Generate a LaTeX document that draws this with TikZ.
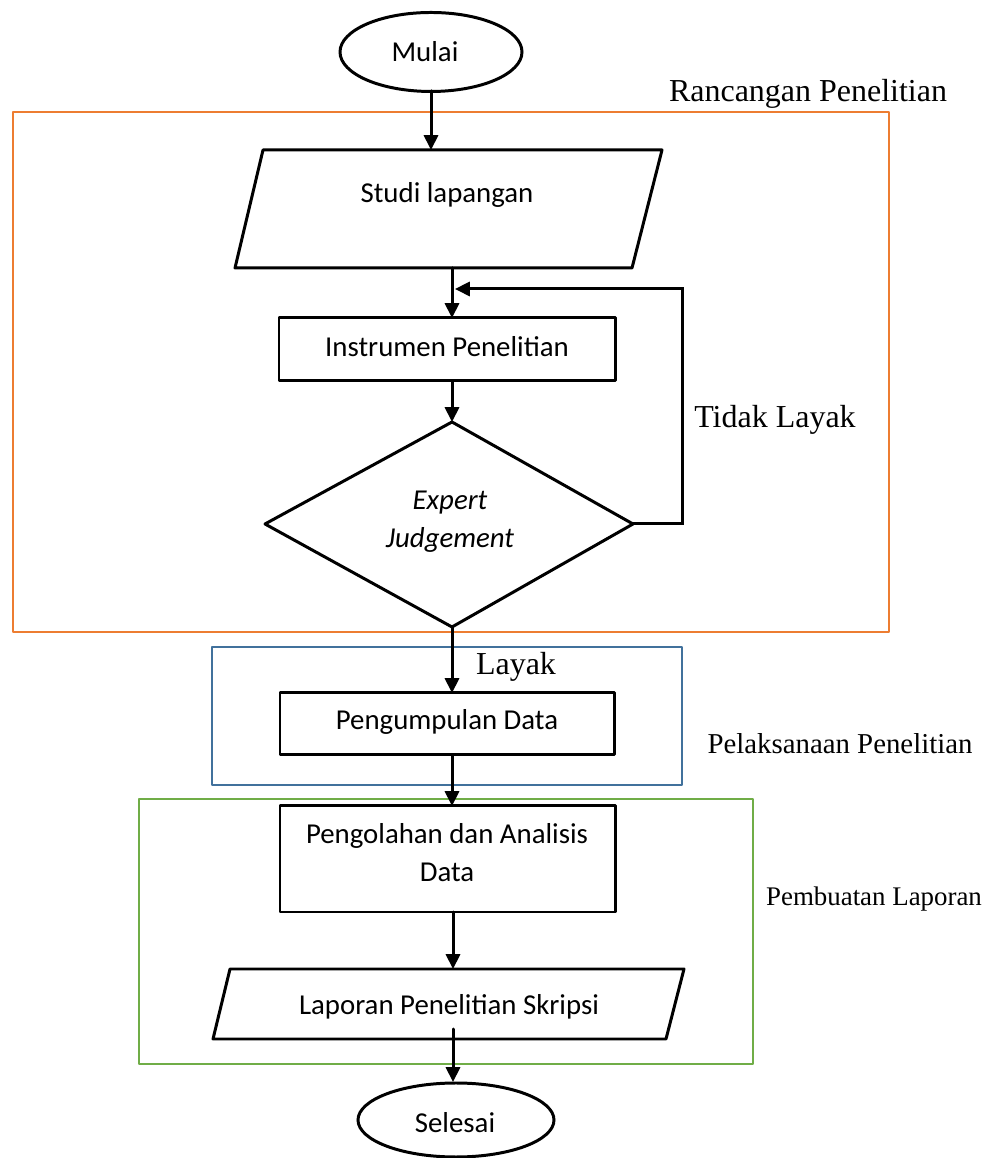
\documentclass[tikz,border=0pt]{standalone}
\usepackage{fontspec}
\usepackage{tkz-euclide}
\usetikzlibrary{arrows.meta}
\newfontfamily\calib{Carlito}
\newfontfamily\tnr{Liberation Serif}
\definecolor{orng}{HTML}{ED7D31}
\definecolor{blu}{HTML}{41719C}
\definecolor{grn}{HTML}{70AD47}
\tikzset{
  flowline/.style={line width=0.85pt, color=black},
  arr/.style={flowline, -{Triangle[width=4pt,length=4.2pt]}},
  phase/.style={line width=0.7pt},
  flowtxt/.style={font=\calib\fontsize{8.2}{9.8}\selectfont, inner sep=0pt, anchor=base},
  sidelbl/.style={font=\tnr\fontsize{9.1}{10.9}\selectfont, inner sep=0pt, anchor=base}
}

\begin{document}
\begin{tikzpicture}
    \useasboundingbox (0,0) rectangle (9.89,11.58);
    \tkzDefPoints{0.13/10.46/rA,8.89/10.46/rB,8.89/5.26/rC,0.13/5.26/rD,
      2.12/5.11/bA,6.82/5.11/bB,6.82/3.73/bC,2.12/3.73/bD,
      1.39/3.59/gA,7.53/3.59/gB,7.53/0.94/gC,1.39/0.94/gD}
    \tkzDefPoints{4.31/11.06/mul,4.31/10.67/mulB,4.31/10.08/stuT,
      2.35/8.90/stuA,6.32/8.90/stuB,6.62/10.08/stuC,2.63/10.08/stuD,4.52/8.90/stuO,
      2.79/8.40/insA,6.15/8.40/insB,6.15/7.77/insC,2.79/7.77/insD,4.52/8.40/insT,4.52/7.77/insO,
      4.52/7.36/expT,2.65/6.34/expL,4.52/5.31/expB,6.33/6.34/expR,
      6.82/6.34/lpA,6.82/8.69/lpB,4.55/8.69/lpC,
      2.80/4.65/pgA,6.14/4.65/pgB,6.14/4.03/pgC,2.80/4.03/pgD,4.52/4.65/pgT,4.52/4.03/pgO,
      2.80/3.52/poA,6.15/3.52/poB,6.15/2.46/poC,2.80/2.46/poD,4.52/3.52/poT,4.53/2.46/poO,
      2.30/1.89/lapA,6.84/1.89/lapB,6.66/1.19/lapC,2.13/1.19/lapD,4.53/1.89/lapT,4.53/1.29/lapO,
      4.56/0.38/sel,4.53/0.76/selT}
    % fase penelitian
    \tkzDrawPolygon[phase,color=orng](rA,rB,rC,rD)
    \tkzDrawPolygon[phase,color=blu](bA,bB,bC,bD)
    \tkzDrawPolygon[phase,color=grn](gA,gB,gC,gD)
    % bentuk alur
    \draw[flowline] (mul) ellipse [x radius=0.91cm, y radius=0.395cm];
    \draw[flowline] (sel) ellipse [x radius=0.98cm, y radius=0.37cm];
    \tkzDrawPolygon[flowline](stuA,stuB,stuC,stuD)
    \tkzDrawPolygon[flowline](insA,insB,insC,insD)
    \tkzDrawPolygon[flowline](expT,expL,expB,expR)
    \tkzDrawPolygon[flowline](pgA,pgB,pgC,pgD)
    \tkzDrawPolygon[flowline](poA,poB,poC,poD)
    \tkzDrawPolygon[flowline](lapA,lapB,lapC,lapD)
    \tkzDrawSegments[arr](mulB,stuT stuO,insT insO,expT expB,pgT pgO,poT poO,lapT lapO,selT)
    \draw[arr] (expR) -- (lpA) -- (lpB) -- (lpC);
    % teks
    \node[flowtxt] (tmul) at (4.25,10.96) {Mulai};
    \node[flowtxt] (tstu) at (4.47,9.55) {Studi lapangan};
    \node[flowtxt] (tins) at (4.47,8.01) {Instrumen Penelitian};
    \node[flowtxt,font=\calib\itshape\fontsize{8.2}{9.8}\selectfont] (texp) at (4.50,6.48) {Expert};
    \node[flowtxt,font=\calib\itshape\fontsize{8.2}{9.8}\selectfont] (tjud) at (4.50,6.10) {Judgement};
    \node[flowtxt] (tpg) at (4.47,4.28) {Pengumpulan Data};
    \node[flowtxt] (tpo) at (4.47,3.14) {Pengolahan dan Analisis};
    \node[flowtxt] (tpo2) at (4.47,2.76) {Data};
    \node[flowtxt] (tlap) at (4.49,1.43) {Laporan Penelitian Skripsi};
    \node[flowtxt] (tsel) at (4.55,0.26) {Selesai};
    \node[sidelbl] (rancangan) at (8.08,10.56) {Rancangan Penelitian};
    \node[sidelbl] (tidak) at (7.75,7.30) {Tidak Layak};
    \node[sidelbl] (layak) at (5.16,4.83) {Layak};
    \node[sidelbl,font=\tnr\fontsize{8.2}{9.8}\selectfont] (pelaksanaan) at (8.40,4.04) {Pelaksanaan Penelitian};
    \node[sidelbl,font=\tnr\fontsize{7.65}{9.2}\selectfont] (pembuatan) at (8.74,2.52) {Pembuatan Laporan};
\end{tikzpicture}
\end{document}
